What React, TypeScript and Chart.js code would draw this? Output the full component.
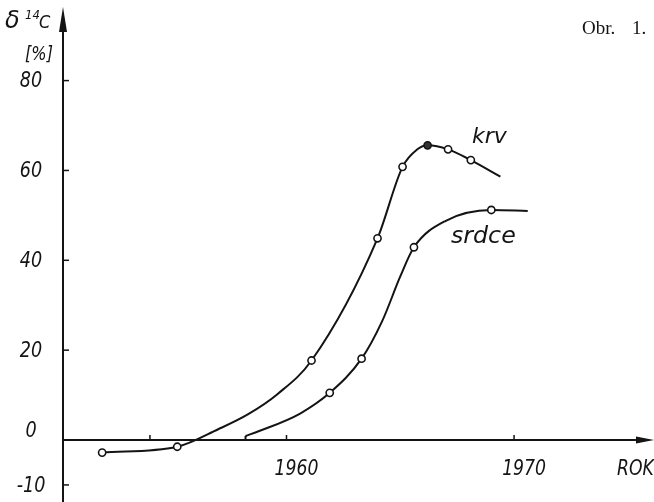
import React, { useEffect, useRef } from 'react';
import { Chart, registerables } from 'chart.js';

Chart.register(...registerables);

// Measured points (circles)
const krvYears = [1951.9, 1955.2, 1961.1, 1964.0, 1965.1, 1966.2, 1967.1, 1968.1];
const krvValues = [-2.8, -1.5, 17.7, 44.9, 60.8, 65.6, 64.7, 62.3];
const krvFilled = [false, false, false, false, false, true, false, false];

const srdceYears = [1961.9, 1963.3, 1965.6, 1969.0];
const srdceValues = [10.5, 18.1, 42.9, 51.2];

// Hand-drawn curve traces
const krvCurveYears = [1951.9, 1955.2, 1957.0, 1958.3, 1959.6, 1961.1, 1964.0, 1965.1, 1965.75, 1966.2, 1967.1, 1968.1, 1969.4];
const krvCurveValues = [-2.8, -1.5, 2.4, 5.7, 10.2, 17.7, 44.9, 60.8, 64.7, 65.6, 64.7, 62.3, 58.6];

const srdceStubYears = [1958.2, 1958.2];
const srdceStubValues = [0, 0.9];
const srdceCurveYears = [1958.2, 1958.8, 1960.6, 1961.9, 1963.3, 1964.2, 1965.0, 1965.6, 1967.0, 1969.0, 1970.6];
const srdceCurveValues = [0.9, 2.0, 5.9, 10.5, 18.1, 26.4, 36.4, 42.9, 48.8, 51.2, 51.0];

// Axes
const yTickValues = [80, 60, 40, 20, 0, -10];
const yTickLabels = ['80', '60', '40', '20', '0', '-10'];
const xTickYears = [1954, 1960, 1970];
const xTickLabels = ['', '1960', '1970'];

const X_MIN = 1950.18;
const X_MAX = 1975.92;
const Y_MIN = -12.64;
const Y_MAX = 96.78;

const INK = '#141414';

function txt(ctx: CanvasRenderingContext2D, s: string, x: number, y: number, font: string, sx = 1, align: CanvasTextAlign = 'center', baseline: CanvasTextBaseline = 'middle') {
  ctx.save();
  ctx.translate(x, y);
  ctx.scale(sx, 1);
  ctx.font = font;
  ctx.fillStyle = INK;
  ctx.textAlign = align;
  ctx.textBaseline = baseline;
  ctx.fillText(s, 0, 0);
  ctx.restore();
}

const axesPlugin = {
  id: 'handAxes',
  beforeDatasetsDraw(chart: any) {
    const ctx: CanvasRenderingContext2D = chart.ctx;
    const xs = chart.scales.x;
    const ys = chart.scales.y;
    const x0 = xs.getPixelForValue(X_MIN);
    const y0 = ys.getPixelForValue(0);
    ctx.save();
    ctx.strokeStyle = INK;
    ctx.fillStyle = INK;
    ctx.lineWidth = 2;
    // y axis
    ctx.beginPath();
    ctx.moveTo(x0, 502);
    ctx.lineTo(x0, 20);
    ctx.stroke();
    ctx.beginPath();
    ctx.moveTo(x0, 7);
    ctx.lineTo(x0 - 4, 32);
    ctx.lineTo(x0 + 4, 32);
    ctx.closePath();
    ctx.fill();
    // x axis
    ctx.beginPath();
    ctx.moveTo(x0, y0);
    ctx.lineTo(645, y0);
    ctx.stroke();
    ctx.beginPath();
    ctx.moveTo(654, y0);
    ctx.lineTo(636, y0 - 3.5);
    ctx.lineTo(636, y0 + 3.5);
    ctx.closePath();
    ctx.fill();
    // y ticks
    ctx.lineWidth = 1.5;
    yTickValues.forEach((v, i) => {
      const py = ys.getPixelForValue(v);
      if (v !== 0) {
        ctx.beginPath();
        ctx.moveTo(x0, py);
        ctx.lineTo(x0 + 6, py);
        ctx.stroke();
      }
      txt(ctx, yTickLabels[i], 31, v === 0 ? py - 9 : py + 1, 'italic 22px "DejaVu Sans"', 0.8);
    });
    // x ticks
    xTickYears.forEach((yr, i) => {
      const px = xs.getPixelForValue(yr);
      ctx.beginPath();
      ctx.moveTo(px, y0);
      ctx.lineTo(px, y0 - 5);
      ctx.stroke();
      if (xTickLabels[i]) txt(ctx, xTickLabels[i], px + 10, 470, 'italic 21px "DejaVu Sans"', 0.82);
    });
    ctx.restore();
  },
  afterDraw(chart: any) {
    const ctx: CanvasRenderingContext2D = chart.ctx;
    txt(ctx, 'ROK', 617, 470, 'italic 21px "DejaVu Sans"', 0.82, 'left');
    txt(ctx, 'krv', 472, 143, 'italic 22px "DejaVu Sans"', 1, 'left', 'alphabetic');
    txt(ctx, 'srdce', 451, 243, 'italic 23px "DejaVu Sans"', 1.03, 'left', 'alphabetic');
    txt(ctx, 'δ', 5, 28, 'italic 24px "DejaVu Sans"', 1, 'left', 'alphabetic');
    txt(ctx, '14', 25, 19, 'italic 13px "DejaVu Sans"', 0.9, 'left', 'alphabetic');
    txt(ctx, 'C', 39, 28, 'italic 18px "DejaVu Sans"', 0.9, 'left', 'alphabetic');
    txt(ctx, '[%]', 39, 55, 'italic 19px "DejaVu Sans"', 0.85);
    txt(ctx, 'Obr.', 582, 34, '19px "Liberation Serif"', 1, 'left', 'alphabetic');
    txt(ctx, '1.', 632, 34, '19px "Liberation Serif"', 1, 'left', 'alphabetic');
  },
};

export default function App() {
  const ref = useRef<HTMLCanvasElement | null>(null);
  useEffect(() => {
    if (!ref.current) return;
    const toXY = (xs: number[], ys: number[]) => xs.map((x, i) => ({ x, y: ys[i] }));
    const lineStyle = {
      borderColor: INK,
      borderWidth: 2,
      pointRadius: 0,
      fill: false,
      cubicInterpolationMode: 'monotone' as const,
    };
    const markerStyle = {
      showLine: false,
      borderColor: INK,
      pointBorderColor: INK,
      pointBorderWidth: 1.6,
      pointRadius: 3.6,
      pointHoverRadius: 3.6,
    };
    const chart = new Chart(ref.current, {
      type: 'line',
      data: {
        datasets: [
          { label: 'krv', data: toXY(krvCurveYears, krvCurveValues), ...lineStyle, order: 3 },
          { label: 'srdce', data: toXY(srdceCurveYears, srdceCurveValues), ...lineStyle, order: 3 },
          { label: 'srdce-start', data: toXY(srdceStubYears, srdceStubValues), ...lineStyle, cubicInterpolationMode: 'default', tension: 0, order: 3 },
          {
            label: 'krv-points',
            data: toXY(krvYears, krvValues),
            ...markerStyle,
            pointBackgroundColor: krvFilled.map((f) => (f ? '#333' : '#ffffff')),
            order: 1,
          },
          {
            label: 'srdce-points',
            data: toXY(srdceYears, srdceValues),
            ...markerStyle,
            pointBackgroundColor: '#ffffff',
            order: 1,
          },
        ],
      },
      options: {
        animation: false,
        responsive: false,
        maintainAspectRatio: false,
        layout: { padding: { left: 63, right: 4, top: 0, bottom: 0 } },
        plugins: { legend: { display: false }, tooltip: { enabled: false } },
        events: [],
        scales: {
          x: { type: 'linear', min: X_MIN, max: X_MAX, display: false },
          y: { type: 'linear', min: Y_MIN, max: Y_MAX, display: false },
        },
      },
      plugins: [axesPlugin],
    });
    return () => chart.destroy();
  }, []);
  return (
    <div style={{ position: 'absolute', left: 0, top: 0, width: 654, height: 502, background: '#fff' }}>
      <canvas ref={ref} width={654} height={502} style={{ display: 'block', width: 654, height: 502 }} />
    </div>
  );
}
